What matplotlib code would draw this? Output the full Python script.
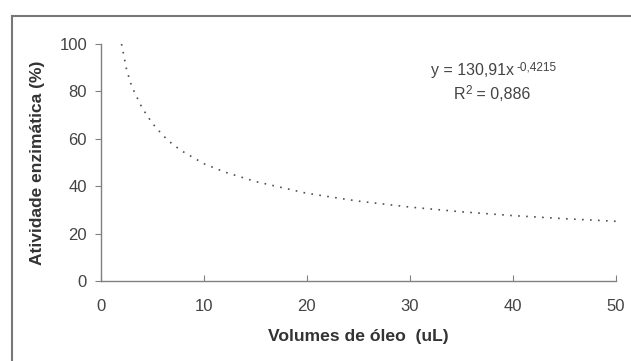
import matplotlib
matplotlib.use('Agg')
import matplotlib.pyplot as plt
from matplotlib.lines import Line2D

plt.rcParams['font.family'] = ['Liberation Sans', 'DejaVu Sans']

volumes = [2, 2.5, 3, 4, 5, 6, 7, 8, 10, 12, 15, 20, 25, 30, 35, 40, 45, 50]
atividade = [100, 89, 82, 73, 66.5, 61.5, 57.5, 54.5, 49.5, 46, 42, 37,
             33.7, 31.2, 29.2, 27.6, 26.3, 25.2]
xticks = [0, 10, 20, 30, 40, 50]
yticks = [0, 20, 40, 60, 80, 100]

fig = plt.figure(figsize=(6.31, 3.61), dpi=100)
ax = fig.add_axes([0.160, 0.2216, 0.8157, 0.6565])

ax.plot(volumes, atividade, color='#505050', lw=1.2, linestyle=(0, (1, 3.8)))

ax.set_xlim(0, 50)
ax.set_ylim(0, 100)
ax.set_xticks(xticks)
ax.set_yticks(yticks)
for s in ['top', 'right']:
    ax.spines[s].set_visible(False)
for s in ['left', 'bottom']:
    ax.spines[s].set_color('#808080')
    ax.spines[s].set_linewidth(1.0)
ax.tick_params(axis='y', direction='out', length=4, color='#808080',
               labelsize=12, labelcolor='#444444', pad=6)
ax.tick_params(axis='x', direction='in', length=4, color='#808080',
               labelsize=12, labelcolor='#444444', pad=13)

ax.set_xlabel('Volumes de óleo  (uL)', fontsize=12.6, fontweight='bold',
              color='#333333', labelpad=11)
ax.set_ylabel('Atividade enzimática (%)', fontsize=12.5, fontweight='bold',
              color='#333333', labelpad=10)

# equação da linha de tendência
eq = ax.text(0.722, 0.888, 'y = 130,91x', transform=ax.transAxes,
             ha='center', va='center', fontsize=11.5, color='#444444')
ax.annotate('-0,4215', xy=(1, 1), xycoords=eq, xytext=(1.5, -3),
            textcoords='offset points', ha='left', va='center',
            fontsize=8.5, color='#444444')
r2 = ax.text(0.697, 0.786, 'R', transform=ax.transAxes,
             ha='center', va='center', fontsize=11.5, color='#444444')
ax.annotate('2', xy=(1, 1), xycoords=r2, xytext=(0.3, -3),
            textcoords='offset points', ha='left', va='center',
            fontsize=8.5, color='#444444')
ax.annotate(' = 0,886', xy=(1, 0), xycoords=r2, xytext=(4.5, 0),
            textcoords='offset points', ha='left', va='bottom',
            fontsize=11.5, color='#444444')

# moldura externa (cortada à direita e embaixo)
x0 = 12 / 631
y0 = 1 - 16 / 361
fig.add_artist(Line2D([x0, x0], [-0.05, y0], transform=fig.transFigure,
                      color='#777777', lw=1.5))
fig.add_artist(Line2D([x0, 1.05], [y0, y0], transform=fig.transFigure,
                      color='#777777', lw=1.5))

fig.savefig('out.png', dpi=100)
